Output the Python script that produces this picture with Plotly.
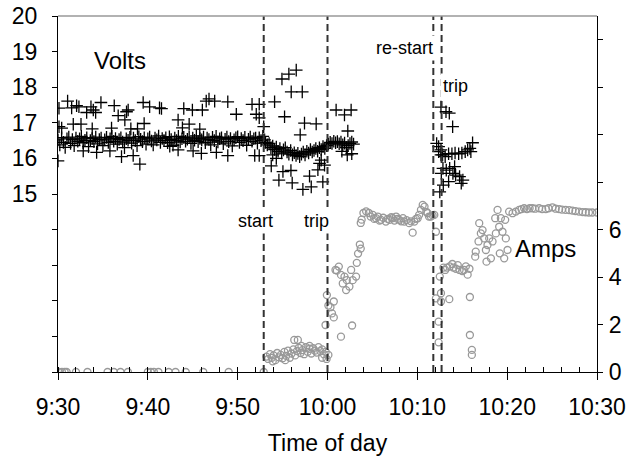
import plotly.graph_objects as go

# ---- tick labels ----
x_tickvals = [0, 10, 20, 30, 40, 50, 60]           # minutes after 9:30
x_ticktext = ["9:30", "9:40", "9:50", "10:00", "10:10", "10:20", "10:30"]
v_tickvals = [10, 11, 12, 13, 14, 15, 16, 17, 18, 19, 20]
v_ticktext = ["", "", "", "", "", "15", "16", "17", "18", "19", "20"]
a_tickvals = [0, 2, 4, 6, 8, 10, 12, 14]
a_ticktext = ["0", "2", "4", "6", "", "", "", ""]

# ---- events (minutes after 9:30) ----
event_t = [22.9, 30.0, 41.78, 42.7]
event_names = ["start", "trip", "re-start", "trip"]

# ---- Volts: main band before start ----
volts_band_t = [0.0, 0.2, 0.4, 0.6, 0.8, 1.0, 1.2, 1.4, 1.6, 1.8,
                2.0, 2.2, 2.4, 2.6, 2.8, 3.0, 3.2, 3.4, 3.6, 3.8,
                4.0, 4.2, 4.4, 4.6, 4.8, 5.0, 5.2, 5.4, 5.6, 5.8,
                6.0, 6.2, 6.4, 6.6, 6.8, 7.0, 7.2, 7.4, 7.6, 7.8,
                8.0, 8.2, 8.4, 8.6, 8.8, 9.0, 9.2, 9.4, 9.6, 9.8,
                10.0, 10.2, 10.4, 10.6, 10.8, 11.0, 11.2, 11.4, 11.6, 11.8,
                12.0, 12.2, 12.4, 12.6, 12.8, 13.0, 13.2, 13.4, 13.6, 13.8,
                14.0, 14.2, 14.4, 14.6, 14.8, 15.0, 15.2, 15.4, 15.6, 15.8,
                16.0, 16.2, 16.4, 16.6, 16.8, 17.0, 17.2, 17.4, 17.6, 17.8,
                18.0, 18.2, 18.4, 18.6, 18.8, 19.0, 19.2, 19.4, 19.6, 19.8,
                20.0, 20.2, 20.4, 20.6, 20.8, 21.0, 21.2, 21.4, 21.6, 21.8,
                22.0, 22.2, 22.4, 22.6, 22.8, 23.0]
volts_band_v = [16.52, 16.38, 16.58, 16.45, 16.31, 16.55, 16.60, 16.42, 16.53, 16.36,
                16.57, 16.48, 16.55, 16.62, 16.44, 16.51, 16.58, 16.33, 16.50, 16.56,
                16.47, 16.60, 16.41, 16.53, 16.57, 16.36, 16.52, 16.59, 16.45, 16.55,
                16.62, 16.48, 16.56, 16.40, 16.53, 16.58, 16.46, 16.30, 16.55, 16.51,
                16.59, 16.43, 16.57, 16.50, 16.36, 16.61, 16.54, 16.47, 16.58, 16.40,
                16.55, 16.60, 16.49, 16.38, 16.57, 16.52, 16.63, 16.45, 16.56, 16.50,
                16.58, 16.44, 16.61, 16.53, 16.37, 16.57, 16.50, 16.62, 16.46, 16.55,
                16.59, 16.48, 16.54, 16.60, 16.42, 16.57, 16.51, 16.63, 16.47, 16.56,
                16.52, 16.60, 16.44, 16.57, 16.53, 16.38, 16.59, 16.50, 16.62, 16.46,
                16.55, 16.58, 16.41, 16.54, 16.60, 16.47, 16.56, 16.35, 16.52, 16.58,
                16.61, 16.45, 16.56, 16.50, 16.59, 16.37, 16.54, 16.60, 16.48, 16.55,
                16.57, 16.43, 16.58, 16.50, 16.62, 16.52]

# ---- Volts: scattered readings before start ----
volts_scatter_t = [0.11, 1.07, 1.52, 2.07, 2.33, 3.19, 3.67, 3.93, 4.19, 4.78,
                   6.26, 6.7, 7.63, 7.81, 9.48, 10.2, 11.3, 11.52, 14.0, 14.96,
                   16.07, 16.5, 16.81, 17.44, 18.9, 19.85, 21.6, 22.4, 22.07, 22.4,
                   0.11, 0.41, 1.7, 2.56, 3.81, 5.96, 7.44, 8.11, 8.85, 9.59,
                   13.37, 13.85, 14.6, 15.78, 22.9,
                   2.81, 4.3, 5.78, 7.07, 8.37, 9.11, 0.0, 12.44, 13.37, 15.04,
                   15.96, 17.63, 18.9, 21.9, 22.4]
volts_scatter_v = [17.41, 17.61, 17.42, 17.48, 17.45, 17.29, 17.45, 17.36, 17.29, 17.57,
                   17.48, 17.2, 17.31, 17.36, 17.57, 17.45, 17.42, 17.4, 17.4, 17.36,
                   17.36, 17.61, 17.67, 17.61, 17.59, 17.24, 17.52, 17.52, 17.24, 17.14,
                   16.89, 16.85, 16.96, 16.96, 16.83, 16.85, 17.08, 16.83, 16.83, 16.98,
                   17.08, 16.86, 16.96, 16.82, 16.89,
                   16.21, 16.17, 16.21, 16.05, 16.08, 15.84, 15.93, 16.34, 16.24, 16.21,
                   16.14, 16.17, 16.08, 16.08, 16.08]

# ---- Volts: first run (start -> trip) and just after ----
volts_run1_t = [23.1, 23.3, 23.5, 23.7, 23.9, 24.1, 24.3, 24.5, 24.7, 24.9,
                25.1, 25.3, 25.5, 25.7, 25.9, 26.1, 26.3, 26.5, 26.7, 26.9,
                27.1, 27.3, 27.5, 27.7, 27.9, 28.1, 28.3, 28.5, 28.7, 28.9,
                29.1, 29.3, 29.5, 29.7, 29.9,
                30.1, 30.3, 30.5, 30.7, 30.9, 31.1, 31.3, 31.5, 31.7, 31.9,
                32.1, 32.3, 32.5, 32.7, 32.9,
                24.93, 25.7, 26.52, 25.96, 27.19, 24.11, 25.22, 27.44, 28.74, 26.96,
                23.74, 25.04, 25.93, 24.59, 26.07, 27.26, 28.19, 28.0, 28.93, 29.11,
                29.48, 29.67, 29.3, 24.3, 23.9, 30.96, 31.89, 32.63, 32.26, 32.7,
                32.2, 31.6]
volts_run1_v = [16.45, 16.38, 16.42, 16.30, 16.35, 16.25, 16.32, 16.20, 16.28, 16.15,
                16.24, 16.30, 16.18, 16.12, 16.22, 16.10, 16.16, 16.08, 16.14, 16.05,
                16.12, 16.18, 16.10, 16.20, 16.15, 16.25, 16.18, 16.22, 16.28, 16.20,
                16.30, 16.25, 16.33, 16.28, 16.36,
                16.40, 16.45, 16.42, 16.48, 16.44, 16.47, 16.41, 16.46, 16.38, 16.43,
                16.30, 16.36, 16.42, 16.46, 16.40,
                18.23, 18.37, 18.48, 17.87, 17.87, 17.59, 17.17, 16.99, 16.97, 16.66,
                15.79, 15.63, 15.66, 15.39, 15.31, 15.13, 15.2, 15.5, 15.68, 15.86,
                15.34, 15.81, 15.95, 16.0, 16.1, 17.36, 17.22, 17.36, 16.77, 16.13,
                16.1, 16.2]

# ---- Volts: second run (re-start -> trip) ----
volts_run2_t = [42.63, 43.19, 43.56, 43.93,
                42.15, 42.37, 42.63, 42.81, 43.1, 43.48, 43.85, 44.2, 44.6, 44.96,
                45.33, 45.6, 45.85, 46.15, 45.96, 42.63, 42.37,
                42.67, 42.85, 43.22, 43.6, 43.96, 43.48, 44.26, 44.7, 45.07, 44.89,
                44.15, 42.5, 42.89]
volts_run2_v = [17.44, 17.31, 17.27, 16.89,
                16.42, 16.33, 16.24, 16.10, 16.05, 16.13, 16.13, 16.15, 16.13, 16.15,
                16.19, 16.24, 16.28, 16.44, 16.19, 16.10, 16.19,
                15.58, 15.72, 15.67, 15.72, 15.58, 15.35, 15.53, 15.49, 15.39, 15.3,
                15.77, 15.06, 15.25]

# ---- Amps ----
amps_idle_t = [0.1, 0.44, 0.74, 0.96, 2.0, 3.28, 5.52, 6.22, 6.96, 7.78,
               10.0, 10.33, 10.67, 11.18, 12.33, 13.08, 14.22, 16.17, 19.0, 22.9]
amps_idle_a = [0, 0, 0, 0, 0, 0, 0, 0, 0, 0,
               0, 0, 0, 0, 0, 0, 0, 0, 0, 0]

amps_run1_t = [23.2, 23.4, 23.6, 23.8, 24.0, 24.2, 24.4, 24.6, 24.8, 25.0,
               25.2, 25.4, 25.6, 25.8, 26.0, 26.2, 26.4, 26.6, 26.8, 27.0,
               27.2, 27.4, 27.6, 27.8, 28.0, 28.2, 28.4, 28.6, 28.8, 29.0,
               29.2, 29.4, 29.6, 29.8, 30.1,
               26.3, 26.7, 27.1, 28.0, 29.4, 29.9, 23.9, 25.3]
amps_run1_a = [0.65, 0.55, 0.75, 0.6, 0.7, 0.5, 0.8, 0.62, 0.72, 0.58,
               0.85, 0.68, 0.9, 0.6, 0.78, 0.95, 0.7, 0.88, 1.02, 0.8,
               0.92, 0.75, 1.05, 0.85, 0.98, 0.78, 1.0, 0.9, 0.82, 1.05,
               0.88, 0.95, 0.75, 0.85, 0.72,
               1.35, 1.35, 1.1, 1.1, 0.6, 0.55, 0.45, 0.5]

amps_rise_t = [29.78, 29.93, 30.1, 30.33, 30.5, 30.7, 30.7, 31.5, 30.89, 31.26,
               31.04, 31.5, 31.89, 31.7, 32.15, 32.07, 32.44, 32.63, 32.81, 33.18,
               32.74, 33.26, 33.4, 33.6, 33.7, 33.7, 33.8, 34.0, 34.3, 34.6]
amps_rise_a = [1.98, 3.24, 2.8, 2.73, 2.47, 2.3, 2.97, 1.49, 4.30, 4.44,
               4.27, 4.09, 4.02, 3.73, 3.87, 3.45, 3.6, 4.3, 3.87, 4.02,
               1.96, 4.6, 4.99, 5.37, 5.2, 6.28, 6.42, 6.7, 6.77, 6.7]

amps_plateau_t = [34.8, 35.04, 35.2, 35.4, 35.6, 35.8, 35.96, 36.2, 36.5, 36.7,
                  36.9, 37.1, 37.26, 37.45, 37.63, 37.8, 38.0, 38.2, 38.4, 38.55,
                  38.8, 39.1, 39.3, 39.48, 39.67, 39.85, 40.04, 40.2, 40.4, 40.6,
                  40.8, 41.0, 41.15, 41.3, 41.5, 41.7, 41.89]
amps_plateau_a = [6.55, 6.62, 6.45, 6.48, 6.55, 6.38, 6.41, 6.5, 6.34, 6.45,
                  6.41, 6.52, 6.48, 6.38, 6.55, 6.45, 6.41, 6.35, 6.48, 6.34,
                  6.4, 6.27, 6.35, 5.87, 6.34, 6.45, 6.48, 6.62, 6.83, 7.04,
                  6.97, 6.75, 6.69, 6.55, 6.55, 6.6, 6.62]

amps_run2_t = [42.07, 42.07, 42.37, 42.37, 42.63, 42.63, 42.5, 43.1, 43.3, 43.6,
               43.9, 44.3, 44.7, 45.0, 45.4, 45.8, 45.6, 43.56, 45.85, 45.85,
               46.07, 46.07, 42.9, 44.0, 44.5, 45.2]
amps_run2_a = [5.91, 3.1, 2.12, 1.25, 3.32, 2.97, 4.02, 4.3, 4.4, 4.45,
               4.55, 4.35, 4.3, 4.25, 4.45, 4.35, 4.1, 3.07, 3.16, 1.56,
               0.93, 0.72, 4.4, 4.4, 4.5, 4.3]

amps_final_t = [46.44, 46.5, 46.81, 46.89, 47.07, 47.26, 47.44, 47.63, 47.7, 47.81,
                48.0, 48.19, 48.37, 48.67, 48.74, 48.93, 49.11, 49.18, 49.3, 49.48,
                49.67, 49.78, 49.85, 50.04, 50.22, 50.6, 50.96, 51.33, 51.6, 51.89,
                52.2, 52.5, 52.8, 53.1, 53.56, 53.9, 54.3, 54.6, 55.04, 55.4,
                55.78, 56.1, 56.5, 56.9, 57.26, 57.6, 58.0, 58.4, 58.74, 59.1,
                59.48, 60.0]
amps_final_a = [4.86, 5.07, 5.5, 6.27, 5.84, 5.98, 5.63, 5.14, 4.65, 5.35,
                5.63, 4.79, 5.5, 6.48, 5.84, 6.83, 6.12, 5.0, 6.48, 5.91,
                4.79, 6.41, 5.63, 5.14, 6.76, 6.69, 6.76, 6.83, 6.86, 6.9,
                6.86, 6.9, 6.9, 6.88, 6.9, 6.86, 6.86, 6.9, 6.94, 6.88,
                6.86, 6.84, 6.83, 6.82, 6.8, 6.78, 6.76, 6.74, 6.73, 6.72,
                6.72, 6.72]

volts_t = volts_band_t + volts_scatter_t + volts_run1_t + volts_run2_t
volts_v = volts_band_v + volts_scatter_v + volts_run1_v + volts_run2_v
amps_t = amps_idle_t + amps_run1_t + amps_rise_t + amps_plateau_t + amps_run2_t + amps_final_t
amps_a = amps_idle_a + amps_run1_a + amps_rise_a + amps_plateau_a + amps_run2_a + amps_final_a

FONT = "Liberation Sans, Arial, sans-serif"

fig = go.Figure()
fig.add_trace(go.Scatter(
    x=amps_t, y=amps_a, mode="markers", yaxis="y2", name="Amps",
    marker=dict(symbol="circle-open", size=7, color="#999999", line=dict(width=1.3, color="#999999")),
))
fig.add_trace(go.Scatter(
    x=volts_t, y=volts_v, mode="markers", yaxis="y", name="Volts",
    marker=dict(symbol="cross-thin-open", size=9, color="black", line=dict(width=1.3, color="black")),
))

shapes = []
for t in event_t:
    shapes.append(dict(type="line", xref="x", yref="paper", x0=t, x1=t, y0=0, y1=1,
                       line=dict(color="#333333", width=2, dash="7px,4px")))
shapes.append(dict(type="line", xref="paper", yref="paper", x0=0, x1=1, y0=1, y1=1,
                   line=dict(color="#999999", width=1.3)))

ann_pos = [(0.3655, 0.424), (0.479, 0.424), (0.642, 0.910), (0.7366, 0.803)]
annotations = []
for name, (px, py) in zip(event_names, ann_pos):
    annotations.append(dict(text=name, xref="paper", yref="paper", x=px, y=py,
                            xanchor="center", yanchor="middle",
                            showarrow=False, bgcolor="white", borderpad=2,
                            font=dict(size=18, color="black", family=FONT)))
annotations.append(dict(text="Volts", xref="paper", yref="paper", x=0.115, y=0.874,
                        xanchor="center", yanchor="middle",
                        showarrow=False, font=dict(size=24, color="black", family=FONT)))
annotations.append(dict(text="Amps", xref="paper", yref="paper", x=0.904, y=0.346,
                        xanchor="center", yanchor="middle",
                        showarrow=False, font=dict(size=24, color="black", family=FONT)))

fig.update_layout(
    width=641, height=461,
    margin=dict(l=58, r=44, t=16, b=89),
    paper_bgcolor="white", plot_bgcolor="white",
    showlegend=False,
    font=dict(family=FONT, size=23, color="black"),
    xaxis=dict(range=[0, 60], tickvals=x_tickvals, ticktext=x_ticktext, automargin=False,
               showgrid=False, zeroline=False, showline=True, linecolor="black", linewidth=1.3,
               ticks="outside", ticklen=7, tickcolor="black", tickwidth=1.3,
               ticklabelstandoff=7,
               minor=dict(dtick=2, tick0=0, ticks="inside", ticklen=5, tickcolor="black", tickwidth=1, showgrid=False),
               title=dict(text="Time of day", font=dict(size=23), standoff=16),
               tickfont=dict(size=23)),
    yaxis=dict(range=[10, 20], tickvals=v_tickvals, ticktext=v_ticktext, automargin=False,
               showgrid=False, zeroline=False, showline=True, linecolor="black", linewidth=1.3,
               ticks="outside", ticklen=5, tickcolor="black", tickwidth=1.3,
               ticklabelstandoff=10,
               tickfont=dict(size=23)),
    yaxis2=dict(range=[0, 15], tickvals=a_tickvals, ticktext=a_ticktext, automargin=False,
                overlaying="y", side="right",
                showgrid=False, zeroline=False, showline=True, linecolor="black", linewidth=1.3,
                ticks="outside", ticklen=5, tickcolor="black", tickwidth=1.3,
                ticklabelstandoff=1,
                tickfont=dict(size=23)),
    shapes=shapes,
    annotations=annotations,
)

fig.write_html("out.html", config={"displayModeBar": False},
               post_script="document.body.style.margin='0px';document.body.style.overflow='hidden';")
